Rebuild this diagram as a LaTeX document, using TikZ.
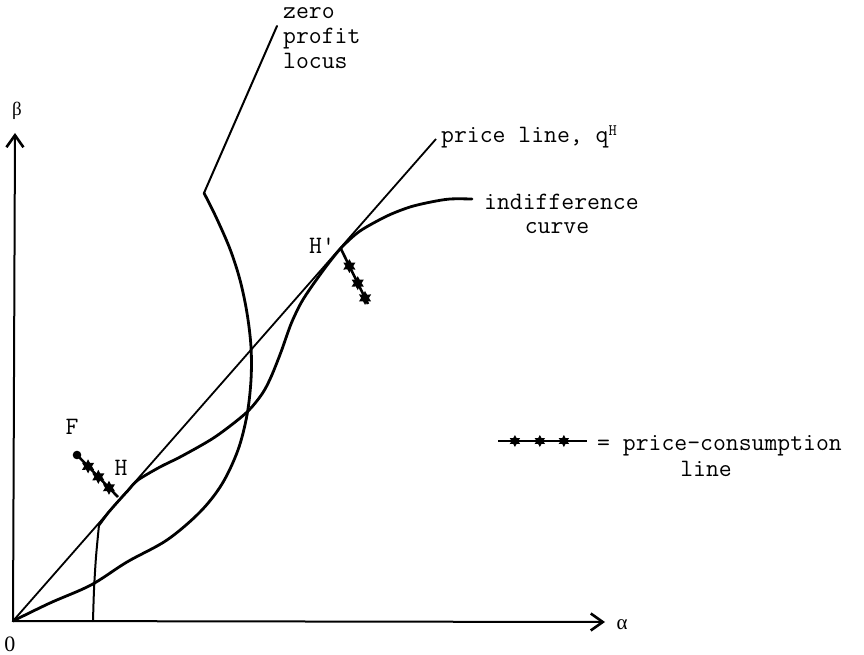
\documentclass[tikz,border=0pt]{standalone}
\usepackage{fontspec}
\newfontfamily\tw{Latin Modern Mono}
\newfontfamily\gr{Liberation Serif}
\usetikzlibrary{arrows.meta,shapes.geometric}
\begin{document}
\begin{tikzpicture}[x=1pt,y=-1pt,
  axis/.style={line width=2pt, -{Straight Barb[length=12pt,width=17pt,line width=2.6pt]}},
  pline/.style={line width=1.8pt},
  curv/.style={line width=2.8pt, line join=round, line cap=round},
  thinc/.style={line width=2pt, line join=round, line cap=round},
  lbl/.style={font=\tw\fontsize{25}{25}\selectfont, inner sep=0pt},
  starmark/.style={star, star points=6, star point ratio=1.8, fill=black, draw=none, inner sep=0pt, minimum size=14pt},
  pcl/.style={line width=2.6pt}]
\useasboundingbox (0,0) rectangle (864,655);

% key points
\coordinate (O) at (13,621);
\coordinate (ytip) at (15,133);
\coordinate (xtip) at (605,622);
\coordinate (Pend) at (436,139);
\coordinate (K) at (204,193);
\coordinate (Ztop) at (277,26);
\coordinate (Fd) at (77,455);
\coordinate (H) at (118,497);
\coordinate (Hp) at (341,249);
\coordinate (HpEnd) at (368,304);
\coordinate (L1) at (498,441);
\coordinate (L2) at (587,441);

% axes
\draw[axis] (O) -- (ytip);
\draw[axis] (O) -- (xtip);

% price line
\draw[pline] (O) -- (Pend);

% zero profit locus
\draw[curv] plot[smooth, tension=0.55] coordinates {(13,621) (50,603) (91,585) (127,562) (167,540) (200,512) (222,484) (238,450) (247,415) (251,380) (251,347) (247,313) (240,280) (230,249) (216,217) (204,193)};
\draw[thinc] (K) -- (Ztop);

% indifference curve
\draw[thinc] plot[smooth, tension=0.5] coordinates {(93,621) (94,590) (96,557) (99,525)};
\draw[curv] plot[smooth, tension=0.5] coordinates {(99,525) (108,513) (118,501.5) (128,490.5) (138,480) (160,467) (182,456) (215,437) (246,413) (262,394) (271,377) (281,352) (291,324) (301,303) (312,286) (328,264) (342,247) (360,231) (387,216) (410,207) (431,202) (450,199) (472,199)};

% price-consumption lines
\draw[pcl] (Fd) -- (H)
  node[starmark, pos=0.27] (s1) {}
  node[starmark, pos=0.52] (s2) {}
  node[starmark, pos=0.78] (s3) {};
\fill (Fd) circle (4.3);
\draw[pcl] (Hp) -- (HpEnd)
  node[starmark, pos=0.31] (s4) {}
  node[starmark, pos=0.62] (s5) {}
  node[starmark, pos=0.89] (s6) {};

% legend
\draw[pcl] (L1) -- (L2)
  node[starmark, minimum size=12pt, pos=0.19] (s7) {}
  node[starmark, minimum size=12pt, pos=0.47] (s8) {}
  node[starmark, minimum size=12pt, pos=0.74] (s9) {};
\node[lbl, anchor=base west] (leg) at (597,450) {= price-consumption};
\node[lbl, anchor=base] (leg2) at (706,476) {line};

% labels
\node[lbl, anchor=base west] (zero) at (283,19) {zero};
\node[lbl, anchor=base west] (profit) at (283,44) {profit};
\node[lbl, anchor=base west] (locus) at (283,69) {locus};
\node[lbl, anchor=base west] (plabel) at (441,143) {price line, q\raisebox{7pt}{\fontsize{16}{16}\selectfont H}};
\node[lbl, anchor=base west] (ind1) at (484,209) {indifference};
\node[lbl, anchor=base] (ind2) at (557,233) {curve};
\node[lbl] (Hl) at (121,468) {H};
\node[lbl] (Hpl) at (322,246) {H'};
\node[lbl] (Fl) at (72,427) {F};
\node[inner sep=0pt, font=\gr\fontsize{19}{19}\selectfont] (beta) at (17,111) {β};
\node[inner sep=0pt, font=\gr\fontsize{21}{21}\selectfont] (alpha) at (622,625) {α};
\node[inner sep=0pt, font=\gr\fontsize{22}{22}\selectfont] (origin) at (10,644) {0};
\end{tikzpicture}
\end{document}
